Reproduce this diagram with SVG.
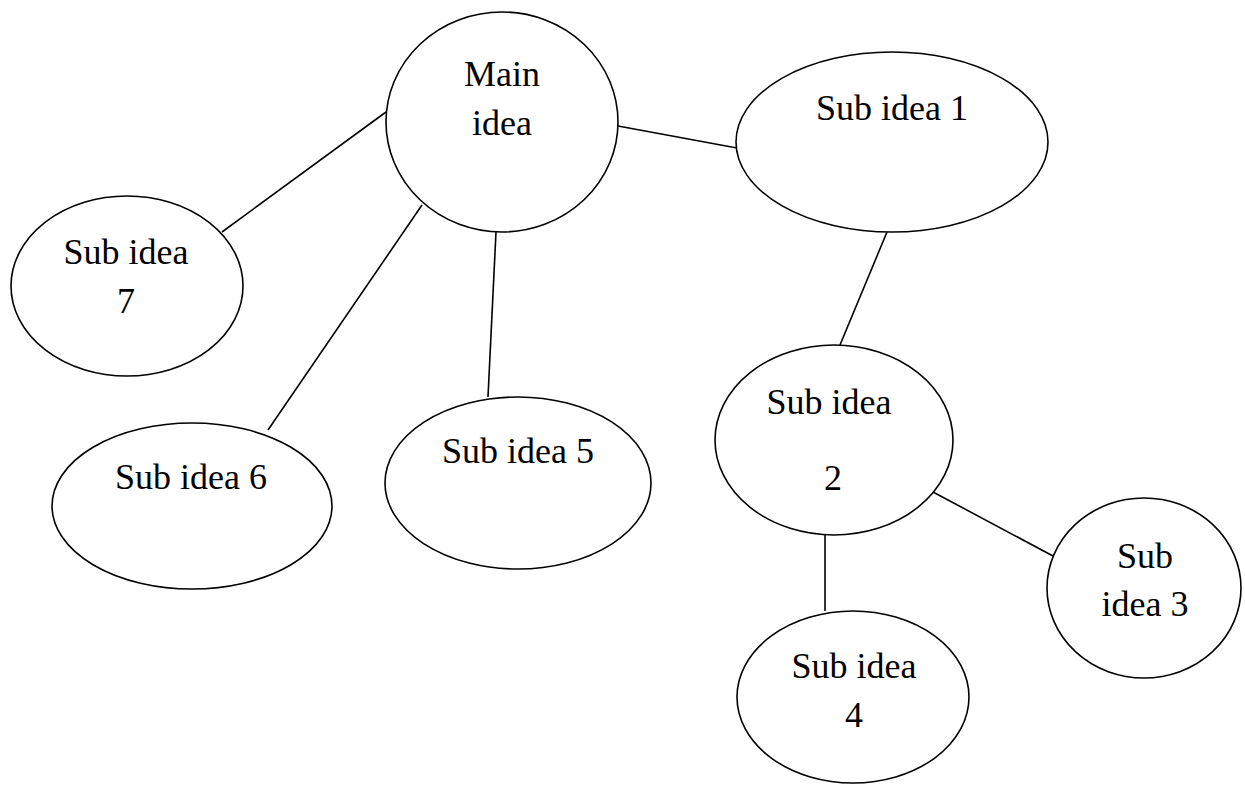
<svg xmlns="http://www.w3.org/2000/svg" width="1245" height="785" viewBox="0 0 1245 785">
  <style>
    .node { fill: #ffffff; stroke: #000000; stroke-width: 1.6; }
    .link { stroke: #000000; stroke-width: 1.6; fill: none; }
    .label { font-family: "Liberation Serif", "Times New Roman", serif; font-size: 36px; fill: #000000; text-anchor: middle; }
  </style>
  <rect width="1245" height="785" fill="#ffffff"/>

  <!-- connectors -->
  <g id="connectors">
    <line class="link" x1="618" y1="126" x2="737" y2="148"/>
    <line class="link" x1="386" y1="112" x2="222" y2="232"/>
    <line class="link" x1="422" y1="205" x2="268" y2="430"/>
    <line class="link" x1="496" y1="232" x2="488" y2="397"/>
    <line class="link" x1="887" y1="232" x2="840" y2="345"/>
    <line class="link" x1="933" y1="492" x2="1053" y2="556"/>
    <line class="link" x1="825" y1="534" x2="825" y2="611"/>
  </g>

  <g id="main-idea">
    <ellipse class="node" cx="502" cy="122" rx="116" ry="110"/>
    <text class="label" x="502" y="86">Main</text>
    <text class="label" x="502" y="135">idea</text>
  </g>

  <g id="sub-idea-1">
    <ellipse class="node" cx="892" cy="142" rx="156" ry="90"/>
    <text class="label" x="892" y="120">Sub idea 1</text>
  </g>

  <g id="sub-idea-7">
    <ellipse class="node" cx="127" cy="286" rx="116" ry="90"/>
    <text class="label" x="126" y="264">Sub idea</text>
    <text class="label" x="126" y="313">7</text>
  </g>

  <g id="sub-idea-6">
    <ellipse class="node" cx="192" cy="506" rx="140" ry="83"/>
    <text class="label" x="191" y="489">Sub idea 6</text>
  </g>

  <g id="sub-idea-5">
    <ellipse class="node" cx="518" cy="483" rx="133" ry="86"/>
    <text class="label" x="518" y="463">Sub idea 5</text>
  </g>

  <g id="sub-idea-2">
    <ellipse class="node" cx="834" cy="440" rx="119" ry="95"/>
    <text class="label" x="829" y="414">Sub idea</text>
    <text class="label" x="833" y="490">2</text>
  </g>

  <g id="sub-idea-3">
    <ellipse class="node" cx="1144" cy="588" rx="97" ry="90"/>
    <text class="label" x="1145" y="568">Sub</text>
    <text class="label" x="1145" y="616">idea 3</text>
  </g>

  <g id="sub-idea-4">
    <ellipse class="node" cx="853" cy="697" rx="116" ry="86"/>
    <text class="label" x="854" y="678">Sub idea</text>
    <text class="label" x="854" y="727">4</text>
  </g>
</svg>
